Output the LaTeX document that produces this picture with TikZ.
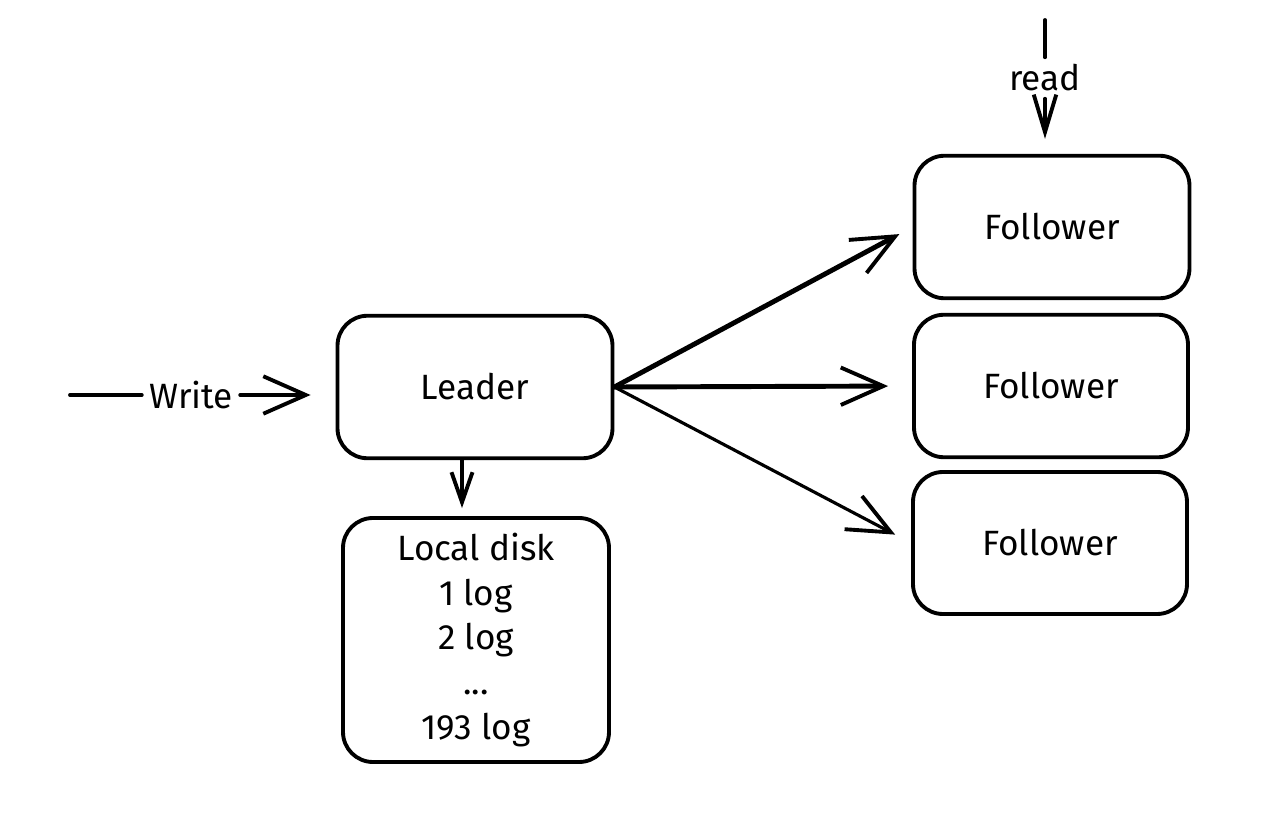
\documentclass[tikz,border=0pt]{standalone}
\usepackage{fontspec}
\setmainfont{Fira Sans}
\usetikzlibrary{arrows.meta}

\tikzset{
  box/.style={shape=rectangle, draw=black, line width=2.2pt, rounded corners=0.6cm,
              minimum width=5.5cm, minimum height=2.85cm, font=\fontsize{20}{24}\selectfont},
  label/.style={inner sep=4pt, font=\fontsize{20}{24}\selectfont},
  bigtip/.style={-{Straight Barb[length=0.85cm,width=0.75cm,line width=2.2pt]}},
  smalltip/.style={-{Straight Barb[length=0.6cm,width=0.42cm,line width=2.2pt]}},
  readtip/.style={-{Straight Barb[length=0.75cm,width=0.45cm,line width=2.2pt]}},
}

\begin{document}
\begin{tikzpicture}[line cap=round, line join=round]
	\useasboundingbox (0,0) rectangle (25.74,16.24);

	\node[box] (leader) at (9.50, 8.50)     {Leader};
	\node[box, minimum width=5.32cm, minimum height=4.88cm, align=center,
	      font=\fontsize{20}{25.5}\selectfont] (disk) at (9.52, 3.44)
	      {Local disk\\1 log\\2 log\\...\\193 log};
	\node[box] (f1) at (21.04, 11.70)     {Follower};
	\node[box, minimum width=5.48cm] (f2) at (21.02, 8.52)     {Follower};
	\node[box, minimum width=5.48cm, minimum height=2.84cm] (f3) at (21.00, 5.38)     {Follower};

	\node[label] (write) at (3.82, 8.34)     {Write};
	\coordinate (wstart) at (1.40, 8.34);
	\node[label] (read) at (20.90, 14.68)     {read};
	\coordinate (rstart) at (20.90, 15.84);

    \path[line width=2.2pt] (wstart) edge (write);
    \path[bigtip, line width=2.2pt, shorten >=0.5cm] (write) edge (write -| leader.west);

    \path[line width=2.2pt] (rstart) edge (read);
    \path[readtip, line width=2.2pt, shorten >=0.3cm] (read) edge (read |- f1.north);

    \path[smalltip, line width=2.2pt, shorten >=0.16cm] ([xshift=-0.26cm]leader.south) edge ([xshift=-0.28cm]disk.north);

    \path[bigtip, line width=2.8pt, shorten >=0.3cm] (leader.east) edge (f1.west);
    \path[bigtip, line width=2.8pt, shorten >=0.48cm] (leader.east) edge (f2.west);
    \path[bigtip, line width=1.8pt, shorten >=0.36cm] (leader.east) edge (f3.west);

\end{tikzpicture}
\end{document}
